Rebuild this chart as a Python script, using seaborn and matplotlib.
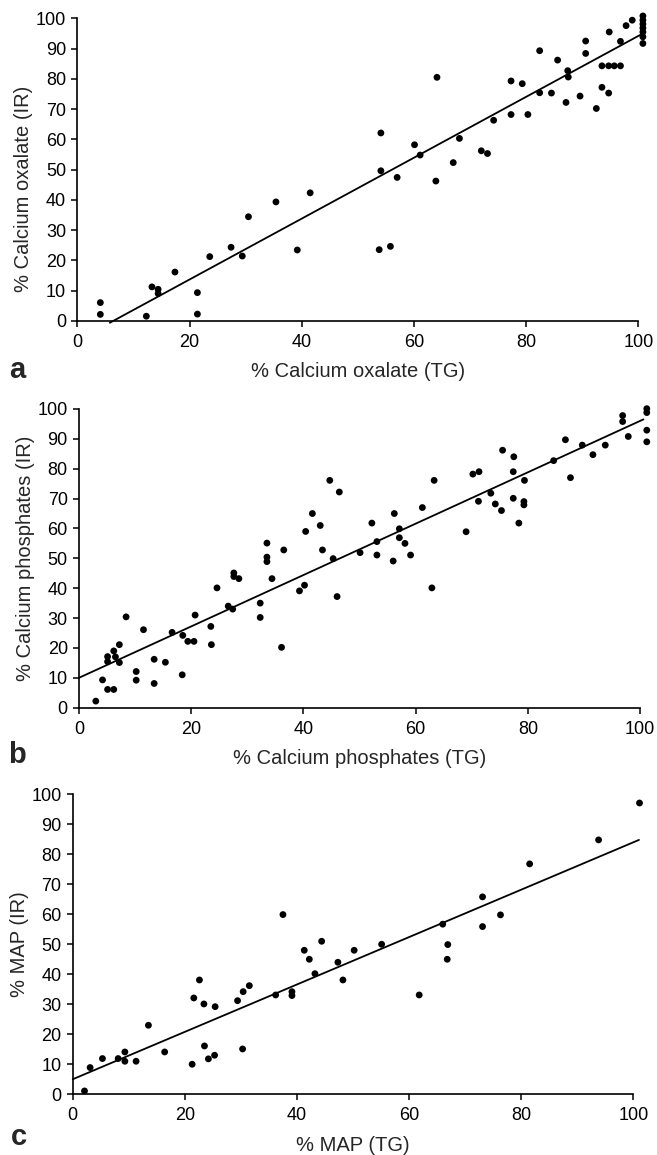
import numpy as np
import pandas as pd
import matplotlib
matplotlib.use("Agg")
import matplotlib.pyplot as plt
import seaborn as sns

# Panel a: calcium oxalate, TG vs IR
OX_TG = [4.1, 4.1, 12.3, 13.3, 14.4, 14.4, 17.4, 21.4, 21.4, 23.6, 27.4, 29.4,
         30.5, 35.4, 39.2, 41.5, 54.1, 54.1, 53.8, 55.8, 57.0, 60.1, 61.1, 64.1,
         63.9, 67.0, 68.1, 72.0, 73.1, 74.2, 77.3, 77.3, 79.3, 80.3, 82.4, 82.4,
         84.5, 85.6, 87.4, 87.5, 87.1, 89.6, 90.6, 90.6, 92.5, 93.5, 94.7, 93.5,
         94.7, 95.7, 96.8, 94.8, 96.8, 97.8, 98.9,
         100.8, 100.8, 100.8, 100.8, 100.8, 100.8, 100.8]
OX_IR = [6.0, 2.1, 1.5, 11.2, 10.4, 9.0, 16.1, 9.3, 2.2, 21.2, 24.3, 21.4,
         34.4, 39.3, 23.4, 42.3, 62.1, 49.6, 23.5, 24.6, 47.4, 58.2, 54.8, 80.5,
         46.2, 52.3, 60.3, 56.2, 55.3, 66.3, 79.3, 68.2, 78.4, 68.2, 89.3, 75.4,
         75.3, 86.2, 82.7, 80.6, 72.2, 74.3, 92.5, 88.4, 70.2, 77.2, 75.3, 84.3,
         84.3, 84.3, 84.3, 95.5, 92.4, 97.6, 99.4,
         100.8, 99.4, 98.1, 96.8, 95.5, 93.9, 91.7]

# Panel b: calcium phosphates
PH_TG = [3.0, 4.2, 5.1, 5.1, 5.1, 6.2, 6.5, 6.2, 7.2, 7.2, 8.4, 10.2, 10.2,
         11.5, 13.4, 13.4, 15.4, 16.6, 18.5, 18.4, 19.4, 20.5, 20.7, 23.5, 23.6,
         24.6, 26.6, 27.4, 27.6, 27.6, 28.5, 32.3, 32.3, 33.5, 33.5, 33.5, 34.4,
         36.1, 36.5, 39.3, 40.2, 40.4, 41.6, 43.0, 43.4, 44.7, 45.3, 46.0, 46.4,
         50.1, 52.2, 53.1, 53.1, 56.2, 56.0, 57.1, 57.1, 58.1, 59.1, 61.2, 62.9,
         63.3, 69.0, 70.2, 71.3, 71.2, 73.4, 74.2, 75.3, 75.5, 77.5, 77.4, 77.4,
         78.4, 79.4, 79.3, 79.3, 84.6, 86.7, 87.6, 89.7, 91.6, 93.8, 96.9, 96.9,
         97.9, 101.2, 101.2, 101.2, 101.2]
PH_IR = [2.2, 9.3, 17.1, 15.4, 6.1, 19.0, 17.0, 6.1, 21.1, 15.1, 30.4, 12.1, 9.2,
         26.1, 16.2, 8.1, 15.2, 25.2, 24.2, 11.0, 22.2, 22.2, 31.0, 27.2, 21.1,
         40.1, 34.0, 33.0, 45.1, 43.9, 43.2, 35.0, 30.2, 55.1, 50.4, 48.9, 43.2,
         20.2, 52.8, 39.1, 41.0, 59.0, 65.0, 61.0, 52.8, 76.1, 49.9, 37.2, 72.2,
         51.9, 61.8, 55.6, 51.1, 65.0, 49.1, 59.9, 56.9, 55.0, 51.1, 67.0, 40.1,
         76.1, 58.9, 78.2, 79.0, 69.1, 71.8, 68.2, 66.0, 86.2, 84.0, 79.0, 70.1,
         61.8, 76.1, 69.0, 67.9, 82.7, 89.7, 77.0, 87.9, 84.7, 87.9, 97.8, 95.8,
         90.8, 100.1, 98.8, 92.9, 89.0]

# Panel c: MAP
MAP_TG = [2.1, 3.1, 5.3, 8.1, 9.3, 9.3, 11.3, 13.5, 16.4, 21.3, 21.6, 22.6, 23.4,
          23.5, 24.2, 25.3, 25.4, 29.4, 30.4, 30.3, 31.5, 36.2, 37.5, 39.1, 39.1,
          41.3, 42.2, 43.2, 44.4, 47.3, 48.2, 50.2, 55.1, 61.8, 66.0, 66.9, 66.8,
          73.1, 73.1, 76.3, 81.5, 93.8, 101.1]
MAP_IR = [1.1, 8.9, 11.9, 11.9, 14.1, 11.0, 11.0, 23.0, 14.1, 10.0, 32.1, 38.1, 30.1,
          16.1, 11.8, 13.0, 29.2, 31.2, 34.2, 15.1, 36.2, 33.1, 59.9, 34.2, 32.9,
          48.0, 45.0, 40.2, 51.0, 44.0, 38.1, 48.0, 50.0, 33.1, 56.7, 49.9, 45.0,
          65.8, 55.9, 59.8, 76.8, 84.8, 97.1]

# regression lines as drawn: slope, intercept, x range
FIT_SLOPE = [1.007, 0.86, 0.79]
FIT_INTERCEPT = [-6.5, 10.0, 5.0]
FIT_XMIN = [5.8, 0.0, 0.0]
FIT_XMAX = [100.8, 100.6, 101.0]

PANEL_LETTERS = ["a", "b", "c"]
X_LABELS = ["% Calcium oxalate (TG)", "% Calcium phosphates (TG)", "% MAP (TG)"]
Y_LABELS = ["% Calcium oxalate (IR)", "% Calcium phosphates (IR)", "% MAP (IR)"]

sns.set_style("ticks")
plt.rcParams["font.family"] = ["Liberation Sans", "DejaVu Sans"]

fig = plt.figure(figsize=(6.57, 11.55), dpi=100)

# axes boxes in figure fractions [left, bottom, width, height]
boxes = [
    [0.1177, 0.7223, 0.854, 0.2618],
    [0.1202, 0.3873, 0.854, 0.2586],
    [0.1107, 0.0526, 0.8533, 0.2597],
]
letter_pos = [(0.014, 0.673), (0.012, 0.339), (0.016, 0.009)]
# the y label of panel a sits a little below the middle of its axis
ylabel_y = [0.436, 0.5, 0.5]

panels = [(OX_TG, OX_IR), (PH_TG, PH_IR), (MAP_TG, MAP_IR)]

for i, (tg, ir) in enumerate(panels):
    ax = fig.add_axes(boxes[i])
    df = pd.DataFrame({"tg": tg, "ir": ir})
    sns.scatterplot(data=df, x="tg", y="ir", ax=ax, color="black", s=24,
                    edgecolor="none", clip_on=False, zorder=3)

    xs = np.linspace(FIT_XMIN[i], FIT_XMAX[i], 50)
    line = pd.DataFrame({"x": xs, "y": FIT_SLOPE[i] * xs + FIT_INTERCEPT[i]})
    sns.lineplot(data=line, x="x", y="y", ax=ax, color="black", lw=1.3,
                 clip_on=False, zorder=2)

    ax.set_xlim(0, 100)
    ax.set_ylim(0, 100)
    ax.set_xticks(range(0, 101, 20))
    ax.set_yticks(range(0, 101, 10))
    ax.tick_params(direction="out", length=4.5, width=1.1, labelsize=13,
                   colors="black", pad=3.5)
    ax.tick_params(axis="x", pad=5)
    for s in ["left", "bottom"]:
        ax.spines[s].set_linewidth(1.2)
        ax.spines[s].set_color("black")
    sns.despine(ax=ax)
    ax.set_xlabel(X_LABELS[i], fontsize=14.5, labelpad=8)
    ax.set_ylabel(Y_LABELS[i], fontsize=14.5, labelpad=2)
    ax.yaxis.label.set_y(ylabel_y[i])

    fig.text(*letter_pos[i], PANEL_LETTERS[i], fontsize=21, fontweight="bold")

fig.savefig("out.png", dpi=100)
